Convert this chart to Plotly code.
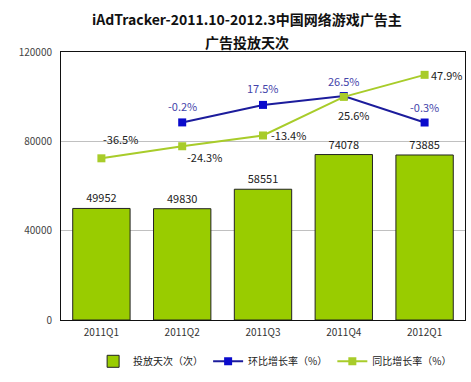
import plotly.graph_objects as go

categories = ["2011Q1", "2011Q2", "2011Q3", "2011Q4", "2012Q1"]
days = [49952, 49830, 58551, 74078, 73885]
qoq = [None, -0.2, 17.5, 26.5, -0.3]   # 环比增长率 (%)
yoy = [-36.5, -24.3, -13.4, 25.6, 47.9]  # 同比增长率 (%)
yticks = [0, 40000, 80000, 120000]
title_lines = ["iAdTracker-2011.10-2012.3中国网络游戏广告主", "广告投放天次"]

FONT = "Noto Sans CJK SC, DejaVu Sans, sans-serif"
BAR = "#99cc00"
BLUE = "#0a0acc"
BLUE_LINE = "#1c1c9c"
GREEN = "#a8cc2a"

fig = go.Figure()

fig.add_trace(go.Bar(
    x=categories, y=days, name="投放天次（次）",
    marker=dict(color=BAR, line=dict(color="#222222", width=1)),
    text=[str(v) for v in days], textposition="outside",
    textfont=dict(size=11, color="#222222", family=FONT),
    cliponaxis=False,
))

fig.add_trace(go.Scatter(
    x=categories, y=qoq, name="环比增长率（%）", yaxis="y2",
    mode="lines+markers",
    line=dict(color=BLUE_LINE, width=2),
    marker=dict(symbol="square", size=8, color=BLUE),
    connectgaps=False,
))

fig.add_trace(go.Scatter(
    x=categories, y=yoy, name="同比增长率（%）", yaxis="y2",
    mode="lines+markers",
    line=dict(color=GREEN, width=2),
    marker=dict(symbol="square", size=8, color=GREEN),
))

# labels for qoq (blue text, above points)
qoq_shift = [None, (0, 16), (0, 17), (0, 15), (0, 16)]
for c, v, s in zip(categories, qoq, qoq_shift):
    if v is None:
        continue
    fig.add_annotation(x=c, y=v, yref="y2", text=f"{v}%", showarrow=False,
                       xshift=s[0], yshift=s[1],
                       font=dict(size=11, color="#4444aa", family=FONT))

# labels for yoy (dark text)
yoy_shift = [(19, 19), (22, -11), (25, 0), (10, -18), (22, 0)]
for c, v, s in zip(categories, yoy, yoy_shift):
    fig.add_annotation(x=c, y=v, yref="y2", text=f"{v}%", showarrow=False,
                       xshift=s[0], yshift=s[1],
                       font=dict(size=11, color="#222222", family=FONT))

# title as two centred lines
for line, ypos in zip(title_lines, [1.124, 1.036]):
    fig.add_annotation(x=0.46, xref="paper", y=ypos, yref="paper",
                       text=f"<b>{line}</b>", showarrow=False,
                       xanchor="center", yanchor="middle",
                       font=dict(size=14, color="#111111", family=FONT))

fig.update_layout(
    width=471, height=382,
    margin=dict(l=61, r=6, t=52, b=57, pad=0),
    paper_bgcolor="white", plot_bgcolor="white",
    bargap=0.29,
    showlegend=True,
    legend=dict(orientation="h", x=0.53, xanchor="center", y=-0.1, yanchor="top",
                font=dict(size=10, color="#222222", family=FONT),
                itemwidth=30, traceorder="normal"),
    xaxis=dict(showline=True, linecolor="#111111", linewidth=1, mirror=True,
               tickfont=dict(size=10, color="#333333", family=FONT),
               ticks="", ticklabelstandoff=3, fixedrange=True, automargin=False),
    yaxis=dict(range=[0, 120000], tickvals=yticks, ticktext=[str(t) for t in yticks],
               showgrid=True, gridcolor="#c0c0c0", gridwidth=1,
               showline=True, linecolor="#111111", linewidth=1, mirror=True,
               zeroline=False, ticks="", ticklabelstandoff=6, automargin=False,
               tickfont=dict(size=10, color="#444444", family=FONT)),
    yaxis2=dict(range=[-200, 71], overlaying="y", side="right", visible=False,
                showgrid=False, zeroline=False, automargin=False),
)

fig.write_html("out.html",
               config={"displayModeBar": False},
               post_script="document.body.style.margin='0';document.body.style.overflow='hidden';")
